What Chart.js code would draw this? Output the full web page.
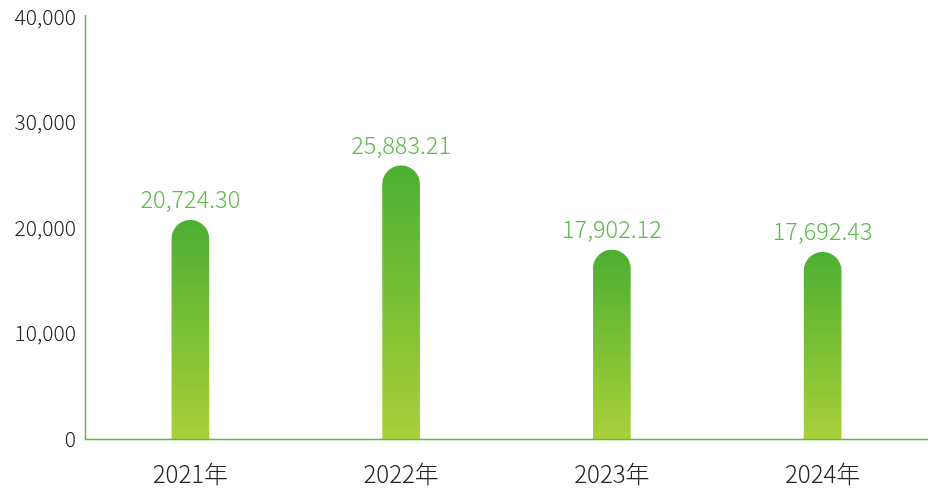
<!DOCTYPE html>
<html>
<head>
<meta charset="utf-8">
<script src="https://cdn.jsdelivr.net/npm/chart.js@4"></script>
<style>
  html, body { margin: 0; padding: 0; background: #fff; }
  #wrap { width: 939px; height: 489px; }
</style>
</head>
<body>
<div id="wrap"><canvas id="c" width="939" height="489"></canvas></div>
<script>
const years = ['2021年', '2022年', '2023年', '2024年'];
const amounts = [20724.30, 25883.21, 17902.12, 17692.43];
const yTicks = [0, 10000, 20000, 30000, 40000];

const FONT = '"Noto Sans CJK SC", "Noto Sans", sans-serif';
const GREEN = '#58bd38';

// value labels above each bar
const valueLabels = {
  id: 'valueLabels',
  afterDatasetsDraw(chart) {
    const ctx = chart.ctx;
    const meta = chart.getDatasetMeta(0);
    ctx.save();
    ctx.font = '300 23.5px ' + FONT;
    ctx.fillStyle = '#5dbb4b';
    ctx.textAlign = 'center';
    ctx.textBaseline = 'middle';
    meta.data.forEach((bar, i) => {
      const txt = amounts[i].toLocaleString('en-US', { minimumFractionDigits: 2, maximumFractionDigits: 2 });
      ctx.fillText(txt, bar.x, bar.y - 21);
    });
    ctx.restore();
  }
};

// green axis lines
const axisLines = {
  id: 'axisLines',
  afterDraw(chart) {
    const { ctx, chartArea: a } = chart;
    ctx.save();
    ctx.strokeStyle = GREEN;
    ctx.lineWidth = 1.4;
    ctx.beginPath();
    ctx.moveTo(Math.round(a.left) + 0.5, a.top - 2);
    ctx.lineTo(Math.round(a.left) + 0.5, Math.round(a.bottom) + 0.5);
    ctx.lineTo(a.right, Math.round(a.bottom) + 0.5);
    ctx.stroke();
    ctx.restore();
  }
};

function barGradient(context) {
  const chart = context.chart;
  const area = chart.chartArea;
  if (!area) return GREEN;
  const v = amounts[context.dataIndex];
  const top = chart.scales.y.getPixelForValue(v);
  const g = chart.ctx.createLinearGradient(0, top, 0, area.bottom);
  g.addColorStop(0, '#4caf32');
  g.addColorStop(1, '#a9d039');
  return g;
}

new Chart(document.getElementById('c'), {
  type: 'bar',
  data: {
    labels: years,
    datasets: [{
      data: amounts,
      backgroundColor: barGradient,
      barThickness: 37,
      borderRadius: { topLeft: 19, topRight: 19, bottomLeft: 0, bottomRight: 0 },
      borderSkipped: 'bottom'
    }]
  },
  options: {
    responsive: false,
    animation: false,
    layout: { padding: { top: 17, right: 11, left: 0, bottom: 0 } },
    plugins: {
      legend: { display: false },
      tooltip: { enabled: false }
    },
    scales: {
      x: {
        grid: { display: false, drawTicks: false },
        border: { display: false },
        ticks: { color: '#222', font: { family: FONT, size: 24, weight: 300 }, padding: 20 },
        afterFit(scale) { scale.height = 50; }
      },
      y: {
        min: 0,
        max: 40000,
        afterBuildTicks(scale) { scale.ticks = yTicks.map(v => ({ value: v })); },
        grid: { display: false, drawTicks: false },
        border: { display: false },
        ticks: {
          color: '#222',
          font: { family: FONT, size: 21, weight: 300 },
          padding: 9,
          callback: v => v.toLocaleString('en-US')
        },
        afterFit(scale) {
          scale.width = 85;
          scale.paddingTop = 0;
          scale.paddingBottom = 0;
        }
      }
    }
  },
  plugins: [valueLabels, axisLines]
});
</script>
</body>
</html>
